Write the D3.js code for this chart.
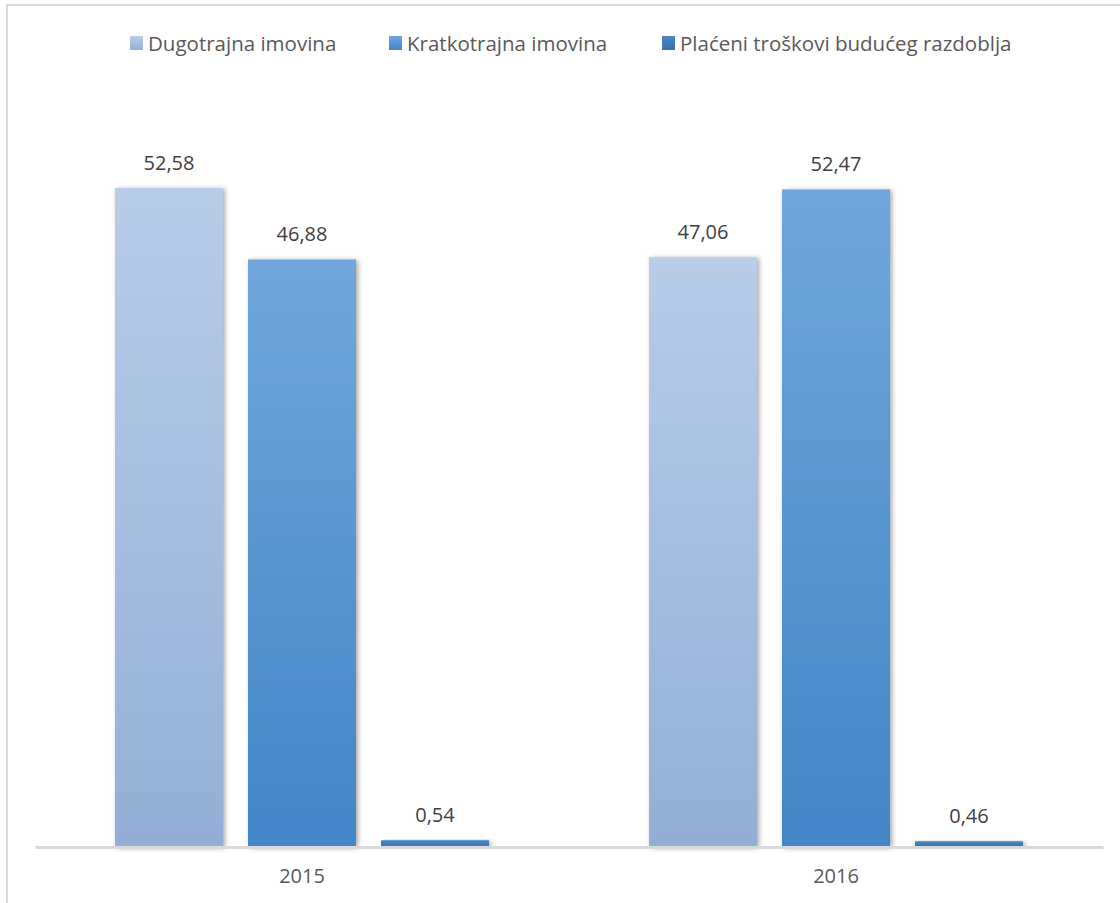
<!DOCTYPE html>
<html>
<head>
<meta charset="utf-8">
<script src="https://cdn.jsdelivr.net/npm/d3@7"></script>
<style>
  body { margin: 0; background: #fff; }
  text { font-family: "Open Sans", sans-serif; }
</style>
</head>
<body>
<div id="chart"></div>
<script>
// chart data
const years = ["2015", "2016"];
const seriesNames = ["Dugotrajna imovina", "Kratkotrajna imovina", "Plaćeni troškovi budućeg razdoblja"];
const dugotrajna = [52.58, 47.06];
const kratkotrajna = [46.88, 52.47];
const placeni = [0.54, 0.46];

const seriesValues = [dugotrajna, kratkotrajna, placeni];
const gradients = [
    ["#b9cdea", "#93aed6"],
    ["#70a6dc", "#4286c7"],
    ["#4a86c2", "#3a72ad"]
];

const width = 1120, height = 903;
const margin = {top: 95, right: 17, bottom: 56, left: 35};
const plotW = width - margin.left - margin.right;
const plotH = height - margin.top - margin.bottom;

const svg = d3.select("#chart").append("svg")
    .attr("width", width)
    .attr("height", height);

const defs = svg.append("defs");
gradients.forEach((g, i) => {
    let lg = defs.append("linearGradient")
        .attr("id", "grad" + i)
        .attr("x1", 0).attr("y1", 0).attr("x2", 0).attr("y2", 1);
    lg.append("stop").attr("offset", "0%").attr("stop-color", g[0]);
    lg.append("stop").attr("offset", "100%").attr("stop-color", g[1]);
});
let shadow = defs.append("filter").attr("id", "shadow")
    .attr("x", "-10%").attr("y", "-10%").attr("width", "130%").attr("height", "130%");
shadow.append("feDropShadow")
    .attr("dx", 2).attr("dy", 1).attr("stdDeviation", 2.5)
    .attr("flood-color", "#000").attr("flood-opacity", 0.35);

// chart frame (only top and left visible)
svg.append("path")
    .attr("d", "M7,903 V5 H1120")
    .attr("fill", "none")
    .attr("stroke", "#d9d9d9")
    .attr("stroke-width", 2);

const g = svg.append("g")
    .attr("transform", "translate(" + margin.left + "," + margin.top + ")");

const x0 = d3.scaleBand()
    .domain(years)
    .range([0, plotW])
    .paddingInner(0)
    .paddingOuter(0);

const x1 = d3.scaleBand()
    .domain(d3.range(seriesNames.length))
    .range([80, x0.bandwidth() - 80])
    .paddingInner(25 / 133);

const y = d3.scaleLinear()
    .domain([0, 60])
    .range([plotH, 0]);

// bars
years.forEach((yr, yi) => {
    let grp = g.append("g")
        .attr("transform", "translate(" + x0(yr) + ",0)");
    seriesValues.forEach((vals, si) => {
        grp.append("rect")
            .attr("x", x1(si))
            .attr("y", y(vals[yi]))
            .attr("width", x1.bandwidth())
            .attr("height", plotH - y(vals[yi]))
            .attr("fill", "url(#grad" + si + ")")
            .attr("filter", "url(#shadow)");
        grp.append("text")
            .attr("x", x1(si) + x1.bandwidth() / 2)
            .attr("y", y(vals[yi]) - 18)
            .attr("text-anchor", "middle")
            .attr("font-size", 20)
            .attr("fill", "#404040")
            .text(d3.format(".2f")(vals[yi]).replace(".", ","));
    });
});

// x axis
const xAxis = d3.axisBottom(x0).tickSize(0).tickPadding(22);
const ax = g.append("g")
    .attr("transform", "translate(0," + plotH + ")")
    .call(xAxis);
ax.select(".domain").attr("stroke", "#d9d9d9").attr("stroke-width", 3);
ax.selectAll("text")
    .attr("font-size", 20)
    .attr("fill", "#595959")
    .style("font-family", "'Open Sans', sans-serif");

// legend
const legendX = [130, 389, 662];
const legend = svg.append("g");
seriesNames.forEach((name, i) => {
    legend.append("rect")
        .attr("x", legendX[i])
        .attr("y", 36)
        .attr("width", 13)
        .attr("height", 14)
        .attr("fill", "url(#grad" + i + ")");
    legend.append("text")
        .attr("x", legendX[i] + 18)
        .attr("y", 51)
        .attr("font-size", 20.5)
        .attr("fill", "#595959")
        .text(name);
});
</script>
</body>
</html>
